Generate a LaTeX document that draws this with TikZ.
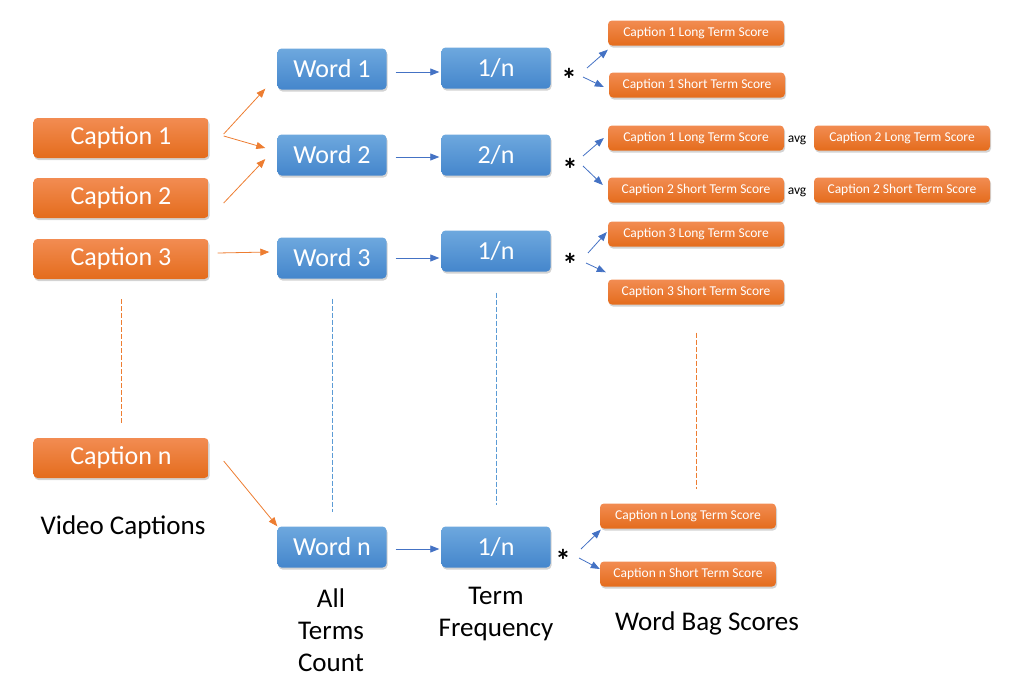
\documentclass[tikz,border=0pt]{standalone}
\usepackage{fontspec}
\setmainfont{Carlito}
\usetikzlibrary{shadows,arrows.meta}

\definecolor{orangeTop}{RGB}{242,140,82}
\definecolor{orangeBot}{RGB}{228,108,28}
\definecolor{blueTop}{RGB}{110,168,222}
\definecolor{blueBot}{RGB}{68,134,204}
\definecolor{orangeLine}{RGB}{237,125,49}
\definecolor{blueLine}{RGB}{68,114,196}
\definecolor{blueDash}{RGB}{91,155,213}

\tikzset{
  boxbase/.style={rounded corners=4pt, inner sep=0pt, text=white,
    drop shadow={shadow xshift=1pt, shadow yshift=-2pt, opacity=0.35}},
  capbox/.style={boxbase, top color=orangeTop, bottom color=orangeBot,
    minimum width=175pt, minimum height=40pt, font=\fontsize{26}{30}\selectfont},
  wordbox/.style={boxbase, top color=blueTop, bottom color=blueBot,
    minimum width=109pt, minimum height=41pt, font=\fontsize{26}{30}\selectfont},
  scorebox/.style={boxbase, top color=orangeTop, bottom color=orangeBot,
    minimum width=176pt, minimum height=25pt, font=\fontsize{13.5}{15}\selectfont},
  oarrow/.style={orangeLine, line width=0.8pt, -{Triangle[length=9pt,width=7pt]}},
  barrow/.style={blueLine, line width=0.8pt, -{Triangle[length=9pt,width=7pt]}},
  dashline/.style={line width=0.8pt, dash pattern=on 5pt off 2pt},
  startext/.style={font=\fontsize{31}{32}\selectfont\bfseries},
  avgtext/.style={font=\fontsize{13.5}{15}\selectfont},
  bigtext/.style={font=\fontsize{27}{32}\selectfont, align=center},
}

\begin{document}
\begin{tikzpicture}[x=1pt, y=-1pt]
  \useasboundingbox (0,0) rectangle (1018,691);

  % video captions
  \node[capbox] (cap1) at (121,138) {Caption 1};
  \node[capbox] (cap2) at (121,198) {Caption 2};
  \node[capbox] (cap3) at (121,259) {Caption 3};
  \node[capbox] (capn) at (121,458) {Caption n};
  \node[bigtext] (vidlbl) at (123,527) {Video Captions};

  % words
  \node[wordbox] (word1) at (332,69) {Word 1};
  \node[wordbox] (word2) at (332,155) {Word 2};
  \node[wordbox] (word3) at (332,258) {Word 3};
  \node[wordbox] (wordn) at (332,547) {Word n};
  \node[bigtext] (alllbl) at (331,630) {All\\Terms\\Count};

  % term frequency
  \node[wordbox] (freq1) at (496,68) {1/n};
  \node[wordbox] (freq2) at (496,155) {2/n};
  \node[wordbox] (freq3) at (496,251) {1/n};
  \node[wordbox] (freqn) at (496,547) {1/n};
  \node[bigtext] (tflbl) at (496,614) {Term\\Frequency};

  \node[startext] (star1) at (569,79) {*};
  \node[startext] (star2) at (570,169) {*};
  \node[startext] (star3) at (570,264) {*};
  \node[startext] (starn) at (563,560) {*};

  % word bag scores
  \node[scorebox] (long1) at (696,33) {Caption 1 Long Term Score};
  \node[scorebox] (short1) at (697,85) {Caption 1 Short Term Score};
  \node[scorebox] (long2) at (696,138) {Caption 1 Long Term Score};
  \node[scorebox] (short2) at (696,190) {Caption 2 Short Term Score};
  \node[scorebox] (long2b) at (902,138) {Caption 2 Long Term Score};
  \node[scorebox] (short2b) at (902,190) {Caption 2 Short Term Score};
  \node[avgtext] (avg1) at (797,140) {avg};
  \node[avgtext] (avg2) at (797,192) {avg};
  \node[scorebox] (long3) at (696,234) {Caption 3 Long Term Score};
  \node[scorebox] (short3) at (696,292) {Caption 3 Short Term Score};
  \node[scorebox] (longn) at (688,516) {Caption n Long Term Score};
  \node[scorebox] (shortn) at (688,574) {Caption n Short Term Score};
  \node[bigtext] (bagLbl) at (707,623) {Word Bag Scores};

  % captions -> words
  \draw[oarrow] ([xshift=15pt,yshift=4pt]cap1.east) -- ([xshift=-12pt,yshift=1pt]word1.south west);
  \draw[oarrow] ([xshift=15pt,yshift=2pt]cap1.east) -- ([xshift=-12pt,yshift=7pt]word2.west);
  \draw[oarrow] ([xshift=15pt,yshift=-5pt]cap2.east) -- ([xshift=-12pt,yshift=-4pt]word2.west);
  \draw[oarrow] ([xshift=9pt,yshift=6pt]cap3.east) -- ([xshift=-8pt,yshift=6pt]word3.west);
  \draw[oarrow] ([xshift=15pt,yshift=-3pt]capn.east) -- (wordn.north west);

  % words -> frequencies
  \draw[barrow] ([xshift=9pt,yshift=-3pt]word1.east) -- ([xshift=-2pt,yshift=-4pt]freq1.west);
  \draw[barrow] ([xshift=9pt,yshift=-2pt]word2.east) -- ([xshift=-2pt,yshift=-2pt]freq2.west);
  \draw[barrow] ([xshift=9pt]word3.east) -- ([xshift=-2pt,yshift=-7pt]freq3.west);
  \draw[barrow] ([xshift=9pt,yshift=-2pt]wordn.east) -- ([xshift=-2pt,yshift=-2pt]freqn.west);

  % frequencies -> scores
  \draw[barrow] ([xshift=18pt,yshift=11pt]star1.center) -- ([yshift=-4pt]long1.south west);
  \draw[barrow] ([xshift=14pt,yshift=2pt]star1.center) -- ([xshift=-5pt,yshift=-2pt]short1.west);
  \draw[barrow] ([xshift=13pt,yshift=13pt]star2.center) -- ([xshift=-4pt]long2.west);
  \draw[barrow] ([xshift=13pt,yshift=3pt]star2.center) -- ([xshift=-5pt,yshift=5pt]short2.west);
  \draw[barrow] ([xshift=18pt,yshift=11pt]star3.center) -- ([xshift=-1pt,yshift=2pt]long3.west);
  \draw[barrow] ([xshift=16pt,yshift=1pt]star3.center) -- ([xshift=-2pt,yshift=7pt]short3.north west);
  \draw[barrow] ([xshift=18pt,yshift=11pt]starn.center) -- ([xshift=1pt,yshift=-1pt]longn.south west);
  \draw[barrow] ([xshift=16pt,yshift=2pt]starn.center) -- ([yshift=5pt]shortn.west);

  % continuation marks
  \draw[orangeLine, dashline] ([yshift=-20pt]cap3.south) -- ([yshift=15pt]capn.north);
  \draw[blueDash, dashline] ([yshift=-20pt]word3.south) -- ([yshift=14pt]wordn.north);
  \draw[blueDash, dashline] ([yshift=-21pt]freq3.south) -- ([yshift=21pt]freqn.north);
  \draw[orangeLine, dashline] ([yshift=-28pt]short3.south) -- ([yshift=14pt]longn.north -| short3.south);
\end{tikzpicture}
\end{document}
